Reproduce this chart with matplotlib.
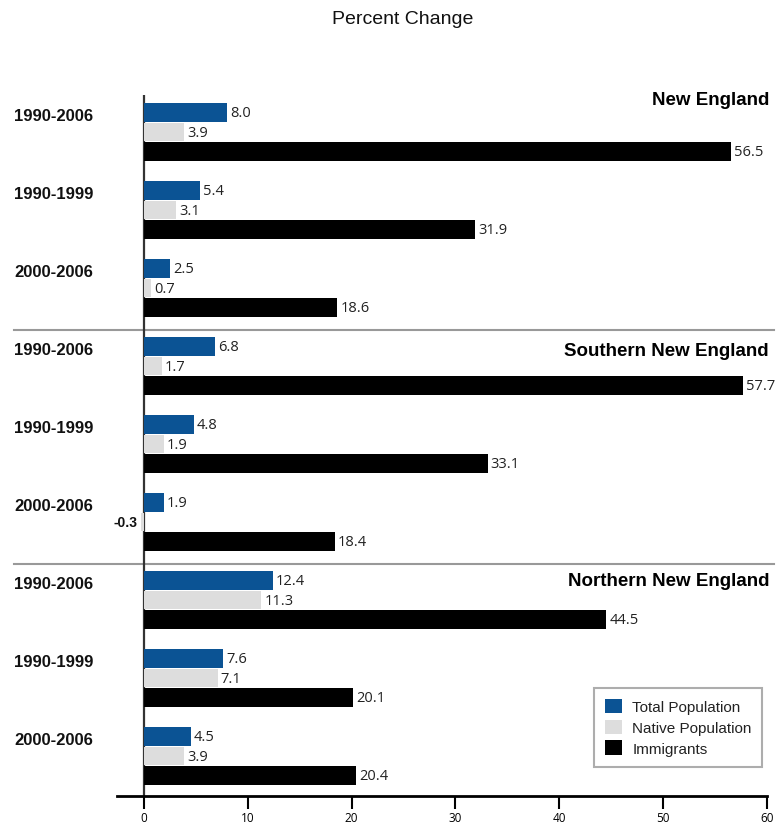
import numpy as np
import matplotlib.pyplot as plt
from matplotlib.patches import Patch

# data
regions = ["New England", "Southern New England", "Northern New England"]
periods = ["1990-2006", "1990-1999", "2000-2006"]
total = [8.0, 5.4, 2.5, 6.8, 4.8, 1.9, 12.4, 7.6, 4.5]
native = [3.9, 3.1, 0.7, 1.7, 1.9, -0.3, 11.3, 7.1, 3.9]
immigrants = [56.5, 31.9, 18.6, 57.7, 33.1, 18.4, 44.5, 20.1, 20.4]
series_names = ["Total Population", "Native Population", "Immigrants"]
colors = ["#0b5394", "#dddddd", "#000000"]

W, H = 779, 829
fig = plt.figure(figsize=(W / 100, H / 100), dpi=100)
ax = fig.add_axes([117 / W, (H - 797) / H, 650 / W, (797 - 96) / H])

n = len(total)
base = np.arange(n) * 4
for k, vals in enumerate([total, native, immigrants]):
    ax.barh(base + k, vals, height=0.95, color=colors[k], zorder=3)
    for y, v in zip(base + k, vals):
        if v < 0:
            ax.text(-0.6, y, f"{v:.1f}", ha="right", va="center", fontsize=10,
                    fontweight="bold", family="Liberation Sans", color="#111")
        else:
            ax.text(v + 0.3, y, f"{v:.1f}", ha="left", va="center", fontsize=10.5,
                    family="Open Sans", color="#222")

# period labels on the left
for g in range(n):
    ax.text(-12.5, base[g] + 0.15, periods[g % 3], ha="left", va="center",
            fontsize=12, fontweight="bold", family="Liberation Sans",
            color="#111", clip_on=False)

# region titles
title_rows = [-0.65, 12.2, 24.0]
for r, yr in zip(regions, title_rows):
    ax.text(60.2, yr, r, ha="right", va="center", fontsize=13.5, fontweight="heavy",
            family="Liberation Sans", color="#000")

# separators between regions
for ys in [11.15, 23.15]:
    ax.plot([-12.5, 60.7], [ys, ys], color="#999999", lw=1.5, clip_on=False, zorder=2)

ax.axvline(0, color="#333333", lw=1.6, zorder=2)

ax.set_xlim(-2.6, 60)
ax.set_ylim(35.05, -0.9)
for s in ["top", "right", "left"]:
    ax.spines[s].set_visible(False)
ax.spines["bottom"].set_linewidth(2)
ax.set_yticks([])
ax.set_xticks(range(0, 61, 10))
ax.tick_params(axis="x", length=9, width=1.5, labelsize=8.5, pad=1.5)
for lab in ax.get_xticklabels():
    lab.set_family("Open Sans")

handles = [Patch(facecolor=c, edgecolor="none") for c in colors]
leg = ax.legend(handles, series_names, loc="upper left",
                bbox_to_anchor=(594 / W, (H - 689) / H), bbox_transform=fig.transFigure,
                fancybox=False, frameon=True, prop={"family": "Liberation Sans", "size": 11},
                handlelength=1.1, handleheight=1.1, handletextpad=0.7,
                labelspacing=0.35, borderpad=0.7, borderaxespad=0)
leg.get_frame().set_edgecolor("#999999")
leg.get_frame().set_linewidth(1.5)
for t in leg.get_texts():
    t.set_color("#222")

fig.text(403 / W, 1 - 20 / H, "Percent Change", ha="center", va="center",
         fontsize=14, family="Liberation Sans", color="#111")

fig.savefig("out.png", dpi=100)
